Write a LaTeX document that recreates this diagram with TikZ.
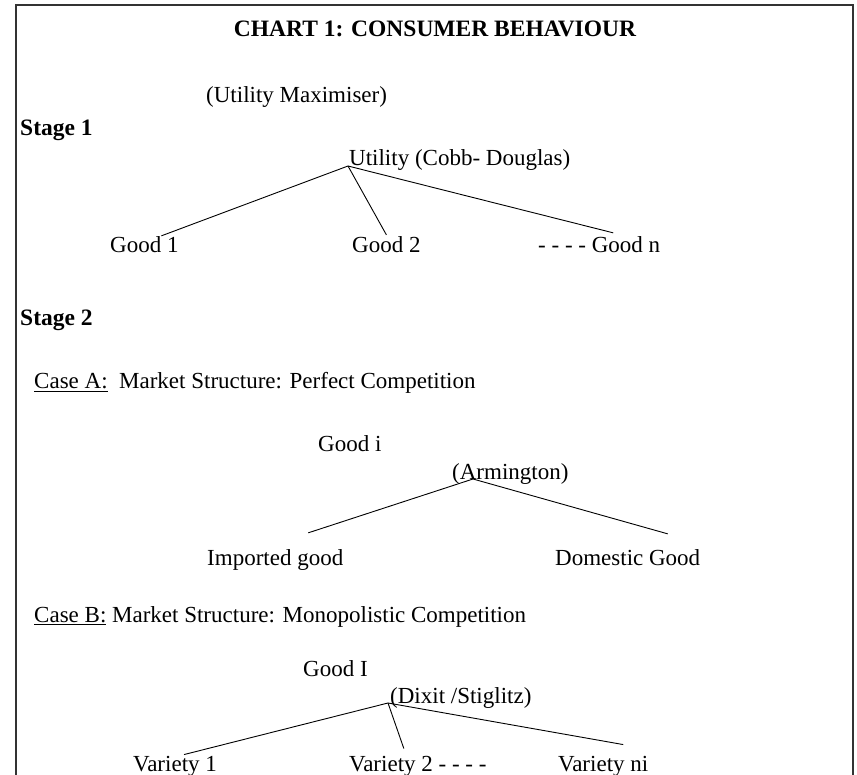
\documentclass[tikz,border=0pt]{standalone}
\usepackage{fontspec}
\setmainfont{Liberation Serif}
\begin{document}
\begin{tikzpicture}[x=1pt,y=-1pt,
  lbl/.style={anchor=base west, inner sep=0pt, font=\fontsize{23}{28}\selectfont},
  head/.style={lbl, font=\fontsize{23.5}{28}\selectfont\bfseries},
  branch/.style={line width=0.9pt}]
				\useasboundingbox (0,0) rectangle (857,775);
				\draw[line width=1.8pt, black!80] (16,775) -- (16,5) -- (853,5) -- (853,775);
				\node[head, anchor=base] (title) at (435,37) {CHART 1: CONSUMER BEHAVIOUR};
				\node[lbl] (maxi) at (206,103) {(Utility Maximiser)};
				%-- stage 1
				\node[head] (stage1) at (20,136) {Stage 1};
				\node[lbl] (util) at (349,166) {Utility (Cobb- Douglas)};
				\node[lbl] (good1) at (110,253) {Good 1};
				\node[lbl] (good2) at (352,253) {Good 2};
				\node[lbl] (goodn) at (538,253) {- - - - Good n};
				\draw[branch] ([xshift=-1pt]util.base west) -- ([xshift=17pt,yshift=1pt]good1.north);
				\draw[branch] ([xshift=-1pt]util.base west) -- ([yshift=2pt]good2.north);
				\draw[branch] ([xshift=-1pt]util.base west) -- ([xshift=14pt,yshift=4pt]goodn.north);
				%-- stage 2, case A
				\node[head] (stage2) at (20,326) {Stage 2};
				\node[lbl] (caseA) at (34,389) {\underline{Case A:}\ \ Market Structure: Perfect Competition};
				\node[lbl] (goodi) at (318,452) {Good i};
				\node[lbl] (arm) at (452,479) {(Armington)};
				\node[lbl] (imp) at (207,565) {Imported good};
				\node[lbl] (dom) at (555,565) {Domestic Good};
				\draw[branch] ([xshift=21pt]arm.base west) -- ([xshift=33pt,yshift=16pt]imp.north);
				\draw[branch] ([xshift=21pt]arm.base west) -- ([xshift=40pt,yshift=15pt]dom.north);
				%-- case B
				\node[lbl] (caseB) at (34,622) {\underline{Case B:} Market Structure: Monopolistic Competition};
				\node[lbl] (goodI) at (303,676) {Good I};
				\node[lbl] (dixit) at (390,703) {(Dixit /Stiglitz)};
				\node[lbl] (var1) at (133,771) {Variety 1};
				\node[lbl] (var2) at (349,771) {Variety 2 - - - -};
				\node[lbl] (varn) at (558,771) {Variety ni};
				\draw[branch] ([xshift=-2pt]dixit.base west) -- ([xshift=9pt,yshift=1pt]var1.north);
				\draw[branch] ([xshift=-2pt]dixit.base west) -- ([xshift=-14pt,yshift=7pt]var2.north);
				\draw[branch] ([xshift=-2pt]dixit.base west) -- ([xshift=20pt,yshift=11pt]varn.north);
\end{tikzpicture}
\end{document}
